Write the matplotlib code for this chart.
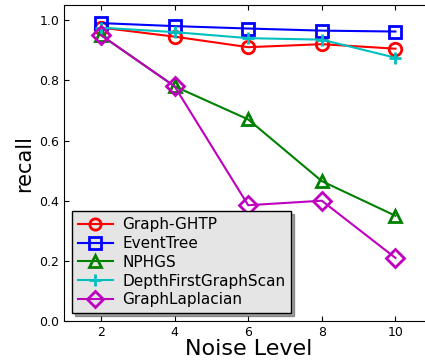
import matplotlib
matplotlib.use("Agg")
import matplotlib.pyplot as plt

noise = [2, 4, 6, 8, 10]
ghtp = [0.975, 0.945, 0.910, 0.920, 0.905]
eventtree = [0.990, 0.980, 0.972, 0.965, 0.962]
nphgs = [0.950, 0.780, 0.670, 0.465, 0.350]
dfgs = [0.975, 0.960, 0.940, 0.935, 0.875]
laplacian = [0.950, 0.780, 0.385, 0.400, 0.210]

fig = plt.figure(figsize=(4.25, 3.6), dpi=100)
ax = fig.add_axes([0.151, 0.108, 0.866, 0.878])

kw = dict(markersize=9, markeredgewidth=2, linewidth=1.5, markerfacecolor='none')
ax.plot(noise, ghtp, 'o-', color='red', markeredgecolor='red', label='Graph-GHTP', **kw)
ax.plot(noise, eventtree, 's-', color='blue', markeredgecolor='blue', label='EventTree', **kw)
ax.plot(noise, nphgs, '^-', color='green', markeredgecolor='green', label='NPHGS', **kw)
ax.plot(noise, dfgs, '+-', color='c', markeredgecolor='c', label='DepthFirstGraphScan', **kw)
ax.plot(noise, laplacian, 'D-', color='m', markeredgecolor='m', label='GraphLaplacian', **kw)

ax.set_xlim(1, 11)
ax.set_ylim(0, 1.05)
ax.set_xticks([2, 4, 6, 8, 10])
ax.set_yticks([0.0, 0.2, 0.4, 0.6, 0.8, 1.0])
ax.set_yticklabels(['0.0', '0.2', '0.4', '0.6', '0.8', '1.0'])
ax.tick_params(labelsize=9, direction='in', top=True, right=True)
ax.set_xlabel('Noise Level', fontsize=16, labelpad=0)
ax.set_ylabel('recall', fontsize=15)

leg = ax.legend(loc='lower left', fontsize=11, shadow=True, fancybox=False,
                framealpha=1, borderaxespad=0.5, handlelength=2.3,
                labelspacing=0.25, borderpad=0.4, handletextpad=0.6,
                markerscale=0.9)
leg.get_frame().set_facecolor('#e5e5e5')
leg.get_frame().set_edgecolor('black')

fig.savefig('out.png', dpi=100)
